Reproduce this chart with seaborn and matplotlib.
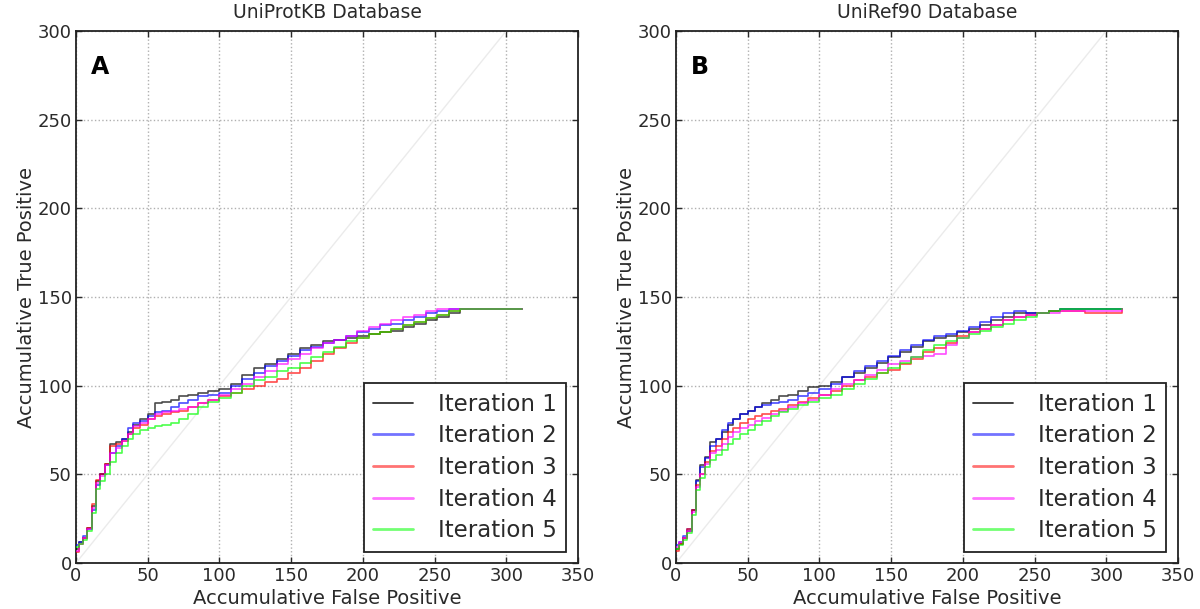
import numpy as np
import pandas as pd
import matplotlib
matplotlib.use("Agg")
import matplotlib.pyplot as plt
import seaborn as sns

# ---------------- data ----------------
titles = ["UniProtKB Database", "UniRef90 Database"]
panel_letters = ["A", "B"]
iterations = ["Iteration 1", "Iteration 2", "Iteration 3", "Iteration 4", "Iteration 5"]
colors = ["black", "blue", "red", "magenta", "lime"]

fp = [0, 2, 5, 8, 11, 14, 17, 20, 24, 28, 32, 36, 40, 45, 50, 55, 60, 66, 72, 78,
      85, 92, 100, 108, 116, 124, 132, 140, 148, 156, 164, 172, 180, 188, 196, 204,
      212, 220, 228, 236, 244, 252, 260, 268, 285, 311]

# UniProtKB (panel A)
a_it1 = [8, 12, 14, 20, 32, 46, 50, 56, 67, 68, 70, 74, 78, 81, 84, 90, 91, 92, 94, 95,
         96, 97, 98, 101, 106, 110, 112, 115, 118, 121, 123, 125, 126, 127, 128, 129,
         130, 131, 133, 135, 137, 139, 141, 143, 143, 143]
a_it2 = [10, 12, 15, 19, 30, 44, 50, 55, 62, 66, 70, 76, 79, 80, 83, 85, 86, 88, 90, 92,
         94, 95, 96, 100, 104, 107, 111, 114, 117, 120, 122, 124, 126, 128, 130, 132,
         134, 135, 137, 139, 141, 142, 143, 143, 143, 143]
a_it3 = [6, 11, 14, 20, 33, 47, 50, 56, 66, 67, 69, 73, 76, 78, 81, 83, 84, 85, 86, 88,
         90, 92, 94, 96, 98, 100, 102, 104, 107, 110, 114, 118, 121, 124, 127, 129,
         130, 132, 134, 136, 138, 140, 142, 143, 143, 143]
a_it4 = [7, 11, 14, 19, 31, 45, 49, 55, 62, 65, 69, 73, 77, 79, 81, 84, 85, 86, 87, 88,
         90, 92, 95, 98, 101, 105, 108, 112, 115, 118, 121, 124, 126, 128, 131, 133,
         135, 137, 139, 140, 142, 143, 143, 143, 143, 143]
a_it5 = [9, 11, 13, 18, 28, 42, 46, 50, 57, 62, 66, 70, 73, 75, 76, 77, 78, 79, 81, 84,
         88, 91, 93, 96, 100, 103, 105, 108, 110, 113, 116, 119, 122, 125, 127, 129,
         130, 132, 134, 136, 138, 140, 142, 143, 143, 143]

# UniRef90 (panel B)
b_it1 = [8, 11, 14, 18, 30, 47, 55, 60, 68, 70, 74, 78, 81, 84, 86, 88, 90, 92, 94, 95,
         97, 99, 100, 102, 105, 107, 110, 113, 116, 119, 122, 125, 127, 128, 130, 132,
         134, 137, 139, 141, 141, 141, 142, 143, 143, 143]
b_it2 = [10, 12, 15, 19, 30, 46, 54, 59, 66, 70, 75, 79, 81, 84, 86, 88, 89, 90, 91, 92,
         94, 96, 98, 101, 105, 108, 111, 114, 117, 120, 123, 126, 128, 129, 131, 133,
         136, 139, 141, 142, 141, 141, 142, 143, 143, 143]
b_it3 = [7, 11, 14, 19, 30, 44, 50, 57, 63, 66, 70, 74, 76, 79, 81, 83, 84, 86, 87, 89,
         91, 93, 95, 97, 100, 103, 105, 107, 109, 112, 115, 119, 121, 124, 128, 130,
         132, 134, 137, 139, 140, 141, 142, 142, 141, 143]
b_it4 = [9, 12, 14, 18, 29, 43, 50, 56, 62, 64, 67, 71, 74, 76, 78, 80, 82, 84, 86, 88,
         90, 92, 95, 98, 101, 103, 106, 109, 112, 114, 116, 117, 118, 123, 127, 130,
         132, 134, 137, 139, 140, 141, 141, 142, 142, 143]
b_it5 = [8, 10, 13, 17, 27, 41, 48, 54, 58, 61, 64, 67, 70, 73, 75, 78, 80, 83, 85, 87,
         89, 91, 93, 95, 98, 101, 104, 107, 110, 113, 116, 120, 123, 125, 127, 129,
         131, 133, 135, 137, 139, 141, 142, 143, 143, 143]

panels = [[a_it1, a_it2, a_it3, a_it4, a_it5], [b_it1, b_it2, b_it3, b_it4, b_it5]]

x_ticks = [0, 50, 100, 150, 200, 250, 300, 350]
y_ticks = [0, 50, 100, 150, 200, 250, 300]

# ---------------- style ----------------
sns.set_style("white")
plt.rcParams["font.family"] = ["DejaVu Sans"]
text_color = "#2a2a2a"

fig = plt.figure(figsize=(12, 6.09), dpi=100)
axes = [fig.add_axes([0.0633, 0.0755, 0.4183, 0.8736]),
        fig.add_axes([0.5633, 0.0755, 0.4183, 0.8736])]

palette = dict(zip(iterations, colors))

for ax, series, title, letter in zip(axes, panels, titles, panel_letters):
    rows = []
    for name, vals in zip(iterations, series):
        for x, y in zip(fp, vals):
            rows.append({"FP": x, "TP": y, "Iteration": name})
    df = pd.DataFrame(rows)

    ax.axline((0, 0), slope=1, color="#ebebeb", lw=1.0, zorder=1)
    sns.lineplot(data=df, x="FP", y="TP", hue="Iteration", palette=palette,
                 estimator=None, sort=False, drawstyle="steps-post",
                 lw=1.2, alpha=0.7, ax=ax, legend=False, zorder=3)

    ax.set_xlim(0, 350)
    ax.set_ylim(0, 300)
    ax.set_xticks(x_ticks)
    ax.set_yticks(y_ticks)
    ax.grid(True, color="#b0b0b0", linestyle=":", lw=1.0)
    for s in ax.spines.values():
        s.set_visible(True)
        s.set_color("#222222")
        s.set_linewidth(1.3)
    ax.tick_params(direction="in", length=4, width=1, top=True, right=True,
                   bottom=True, left=True, labelsize=13, colors=text_color)
    ax.tick_params(axis="x", pad=3)
    ax.tick_params(axis="y", pad=3)
    ax.set_xlabel("Accumulative False Positive", fontsize=14, color=text_color, labelpad=3)
    ax.set_ylabel("Accumulative True Positive", fontsize=14, color=text_color, labelpad=1)
    ax.set_title(title, fontsize=13.5, color=text_color, pad=9)
    ax.text(0.03, 0.955, letter, transform=ax.transAxes, ha="left", va="top",
            fontsize=17, fontweight="bold", color="black")

    handles = [plt.Line2D([], [], color=c, lw=2 if i else 1.3, alpha=0.55 if i else 0.8)
               for i, c in enumerate(colors)]
    leg = ax.legend(handles, iterations, loc="lower right", fontsize=16.5,
                    frameon=True, fancybox=False, framealpha=1, edgecolor="#222222",
                    handlelength=1.75, handletextpad=1.1, labelspacing=0.38,
                    borderpad=0.4, borderaxespad=0.5)
    leg.get_frame().set_linewidth(1.3)
    for t in leg.get_texts():
        t.set_color(text_color)

fig.savefig("out.png", dpi=100)
